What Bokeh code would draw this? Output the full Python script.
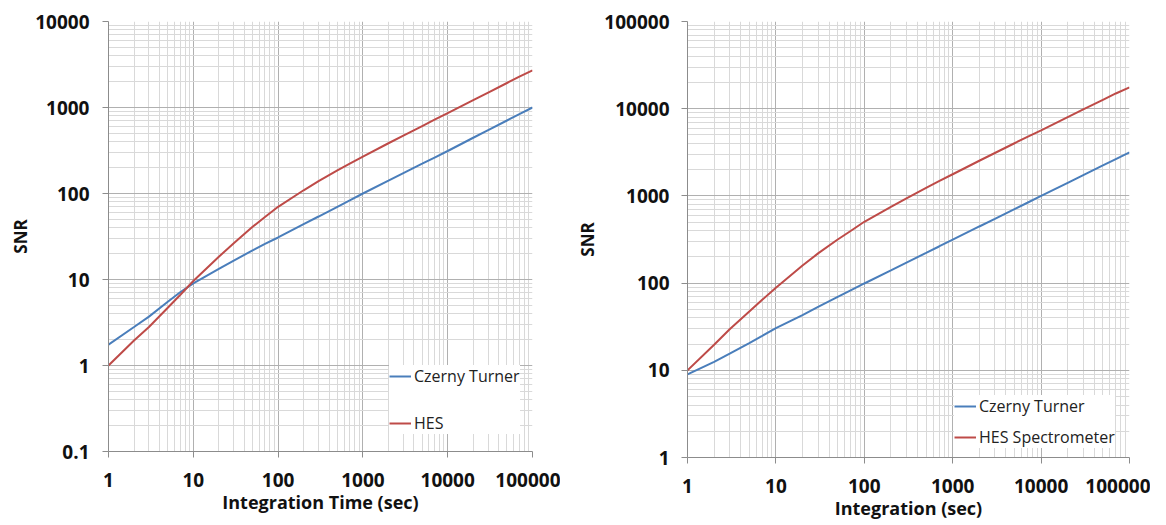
from bokeh.plotting import figure
from bokeh.layouts import row, column
from bokeh.models import (FixedTicker, CustomJSTickFormatter, Legend, LegendItem,
                          Range1d)
from bokeh.embed import file_html
from bokeh.resources import INLINE

# ---------------- data ----------------
t = [1, 2, 3, 5, 7, 10, 20, 30, 50, 70, 100, 200, 300, 500, 700, 1000,
     2000, 3000, 5000, 7000, 10000, 20000, 30000, 50000, 70000, 100000]

# left panel (SNR vs Integration Time)
ct_left = [1.75, 2.8, 3.7, 5.5, 7.1, 9.0, 13.3, 16.6, 21.8, 25.9, 30.8, 44.0,
           54.0, 70.0, 83.0, 100, 141, 173, 222, 262, 312, 445, 546, 706, 836, 1000]
hes_left = [1.0, 1.95, 2.8, 4.7, 6.6, 9.6, 18.4, 26.4, 41.0, 53.2, 70, 109, 139,
            186, 223, 268, 384, 472, 609, 721, 862, 1219, 1493, 1927, 2280, 2700]

# right panel (SNR vs Integration)
ct_right = [9.0, 12.5, 15.5, 20.5, 24.8, 30.5, 43, 53.5, 69.5, 82.5, 99, 140, 172,
            222, 263, 315, 446, 546, 706, 835, 998, 1412, 1730, 2235, 2645, 3160]
hes_right = [10, 19.6, 29.5, 47.2, 64.3, 88.5, 159, 219, 316, 396, 505, 749, 937,
             1236, 1474, 1771, 2530, 3105, 4018, 4757, 5650, 8000, 9800, 12650,
             14950, 17550]

x_major = [1, 10, 100, 1000, 10000, 100000]
y_major_left = [0.1, 1, 10, 100, 1000, 10000]
y_major_right = [1, 10, 100, 1000, 10000, 100000]

BLUE = "#4a7ebb"
RED = "#be4b48"
FONT = "Open Sans"


def minor_for(majors):
    out = []
    for m in majors[:-1]:
        for k in range(2, 10):
            out.append(m * k)
    return out


fmt = CustomJSTickFormatter(code="""
    if (tick < 1) { return tick.toFixed(1); }
    return Math.round(tick).toString();
""")


def make_fig(width, height, mb_left, mb_right, mb_top, mb_bottom, y_rng, y_major,
             xlabel, ylab_standoff, ytick_standoff):
    p = figure(width=width, height=height, x_axis_type="log", y_axis_type="log",
               x_range=Range1d(1, 100000), y_range=Range1d(*y_rng),
               output_backend="svg", toolbar_location=None,
               min_border_left=mb_left, min_border_right=mb_right,
               min_border_top=mb_top, min_border_bottom=mb_bottom)
    p.outline_line_color = None
    p.background_fill_color = "white"
    p.border_fill_color = "white"
    xt = FixedTicker(ticks=x_major, minor_ticks=minor_for(x_major))
    yt = FixedTicker(ticks=y_major, minor_ticks=minor_for(y_major))
    p.xaxis.ticker = xt
    p.yaxis.ticker = yt
    p.xgrid.ticker = xt
    p.ygrid.ticker = yt
    for g in (p.xgrid, p.ygrid):
        g.grid_line_color = "#b0b0b0"
        g.grid_line_width = 1
        g.minor_grid_line_color = "#d9d9d9"
        g.minor_grid_line_width = 1
    for ax in (p.xaxis, p.yaxis):
        ax.formatter = fmt
        ax.axis_line_color = "#8c8c8c"
        ax.major_tick_line_color = "#8c8c8c"
        ax.major_tick_out = 6
        ax.major_tick_in = 0
        ax.minor_tick_out = 0
        ax.minor_tick_in = 0
        ax.major_label_text_font = FONT
        ax.major_label_text_font_style = "bold"
        ax.major_label_text_font_size = "19px"
        ax.major_label_text_color = "#111111"
        ax.axis_label_text_font = FONT
        ax.axis_label_text_font_style = "bold"
        ax.axis_label_text_color = "#111111"
    p.xaxis.axis_label = xlabel
    p.xaxis.axis_label_text_font_size = "18px"
    p.xaxis.axis_label_standoff = 0
    p.yaxis.axis_label = "SNR"
    p.yaxis.axis_label_text_font_size = "17px"
    p.xaxis.major_label_standoff = 15
    p.yaxis.major_label_standoff = ytick_standoff
    p.yaxis.axis_label_standoff = ylab_standoff
    return p


def make_legend(items, loc, spacing, padding):
    return Legend(items=items, location=loc, orientation="vertical",
                  padding=padding, margin=0, spacing=spacing, glyph_width=22,
                  glyph_height=20, label_height=20, label_standoff=3,
                  label_text_font=FONT, label_text_font_size="16px",
                  label_text_color="#222222", border_line_color=None,
                  background_fill_color="white", background_fill_alpha=1.0)


# ---------------- left ----------------
p1 = make_fig(560, 525, 108, 28, 21, 74, (0.1, 10000), y_major_left,
              "Integration Time (sec)", 0, 13)
r1 = p1.line(t, ct_left, line_color=BLUE, line_width=2)
r2 = p1.line(t, hes_left, line_color=RED, line_width=2)
p1.add_layout(make_legend([LegendItem(label="Czerny Turner", renderers=[r1]),
                           LegendItem(label="HES", renderers=[r2])],
                          (281, 17), 25, 8))

# ---------------- right ----------------
p2 = make_fig(590, 525, 127, 21, 21, 68, (1, 100000), y_major_right,
              "Integration (sec)", 2, 12)
r3 = p2.line(t, ct_right, line_color=BLUE, line_width=2)
r4 = p2.line(t, hes_right, line_color=RED, line_width=2)
p2.add_layout(make_legend([LegendItem(label="Czerny Turner", renderers=[r3]),
                           LegendItem(label="HES Spectrometer", renderers=[r4])],
                          (267, 9), 9, 6))

layout = row(column(p1), column(p2))
open("out.html", "w").write(file_html(layout, INLINE))
